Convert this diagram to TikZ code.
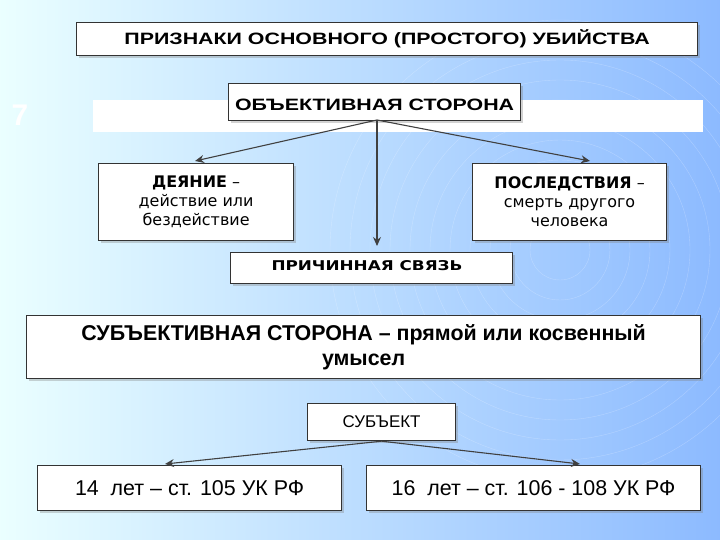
\documentclass[tikz,border=0pt]{standalone}
\usepackage{fontspec}
\setmainfont{Liberation Sans}
\newfontfamily\dv{DejaVu Sans}
\newfontfamily\wide{Liberation Sans}[FakeStretch=1.3]
\newfontfamily\dvw{DejaVu Sans}[FakeStretch=1.25]
\usetikzlibrary{arrows.meta,shadows}
\begin{document}
\begin{tikzpicture}[x=1bp,y=-1bp,
  box/.style={draw=black!80,line width=1.2pt,fill=white,drop shadow={shadow xshift=2bp,shadow yshift=-2bp,opacity=.35},inner sep=0},
  arr/.style={line width=1.1pt,-{Stealth[length=9bp,width=8bp]},draw=black!75}]
\useasboundingbox (0,0) rectangle (720,540);
\shade[left color=cyan!8,right color=cyan!40!blue!45] (0,0) rectangle (720,540);
\foreach \r in {30,50,...,230}{\draw[white,opacity=.25] (560,250) circle (\r);}
\node[box,minimum width=621bp,minimum height=33bp,anchor=north west] (t) at (76,22) {};
\node[font=\wide\bfseries\fontsize{16.5}{18}\selectfont] at (t) {ПРИЗНАКИ ОСНОВНОГО (ПРОСТОГО) УБИЙСТВА};
\node[text=white,font=\bfseries\fontsize{30}{32}\selectfont] (n7) at (20,115) {7};
\fill[white] (93,100) rectangle (703,132);
\node[box,minimum width=292bp,minimum height=37bp,anchor=north west] (o) at (228,83) {};
\node[font=\wide\bfseries\fontsize{16.5}{18}\selectfont] at ([yshift=-3bp]o.center) {ОБЪЕКТИВНАЯ СТОРОНА};
\node[box,minimum width=195bp,minimum height=77bp,anchor=north west] (d) at (98,163) {};
\node[font=\dv\fontsize{16}{19}\selectfont,align=center] at (d) {\textbf{ДЕЯНИЕ} –\\действие или\\бездействие};
\node[box,minimum width=194bp,minimum height=77bp,anchor=north west] (p) at (472,163) {};
\node[font=\dv\fontsize{16}{19}\selectfont,align=center] at (p) {\textbf{ПОСЛЕДСТВИЯ} –\\смерть другого\\человека};
\node[box,minimum width=282bp,minimum height=31bp,anchor=north west] (c) at (230,252) {};
\node[font=\dvw\bfseries\fontsize{13.5}{15}\selectfont,anchor=west] at ([xshift=38bp,yshift=2bp]c.west) {ПРИЧИННАЯ СВЯЗЬ};
\coordinate (os) at (377,120);
\draw[arr] (os) -- (195,161);
\draw[arr] (os) -- (590,161);
\draw[arr] (os) -- (377,246);
\node[box,minimum width=674bp,minimum height=63bp,anchor=north west] (s) at (26,315) {};
\node[font=\bfseries\fontsize{21.5}{25}\selectfont,align=center] at (s) {СУБЪЕКТИВНАЯ СТОРОНА – прямой или косвенный\\умысел};
\node[box,minimum width=148bp,minimum height=37bp,anchor=north west] (sb) at (307,403) {};
\node[font=\fontsize{17}{19}\selectfont] at (sb) {СУБЪЕКТ};
\node[box,minimum width=304bp,minimum height=45bp,anchor=north west] (a1) at (37,465) {};
\node[font=\fontsize{21.5}{24}\selectfont] at (a1) {14 \ лет – ст. 105 УК РФ};
\node[box,minimum width=334bp,minimum height=45bp,anchor=north west] (a2) at (366,465) {};
\node[font=\fontsize{21.5}{24}\selectfont] at (a2) {16 \ лет – ст. 106 - 108 УК РФ};
\draw[arr] (sb.south) -- (165,464);
\draw[arr] (sb.south) -- (580,464);
\end{tikzpicture}
\end{document}
